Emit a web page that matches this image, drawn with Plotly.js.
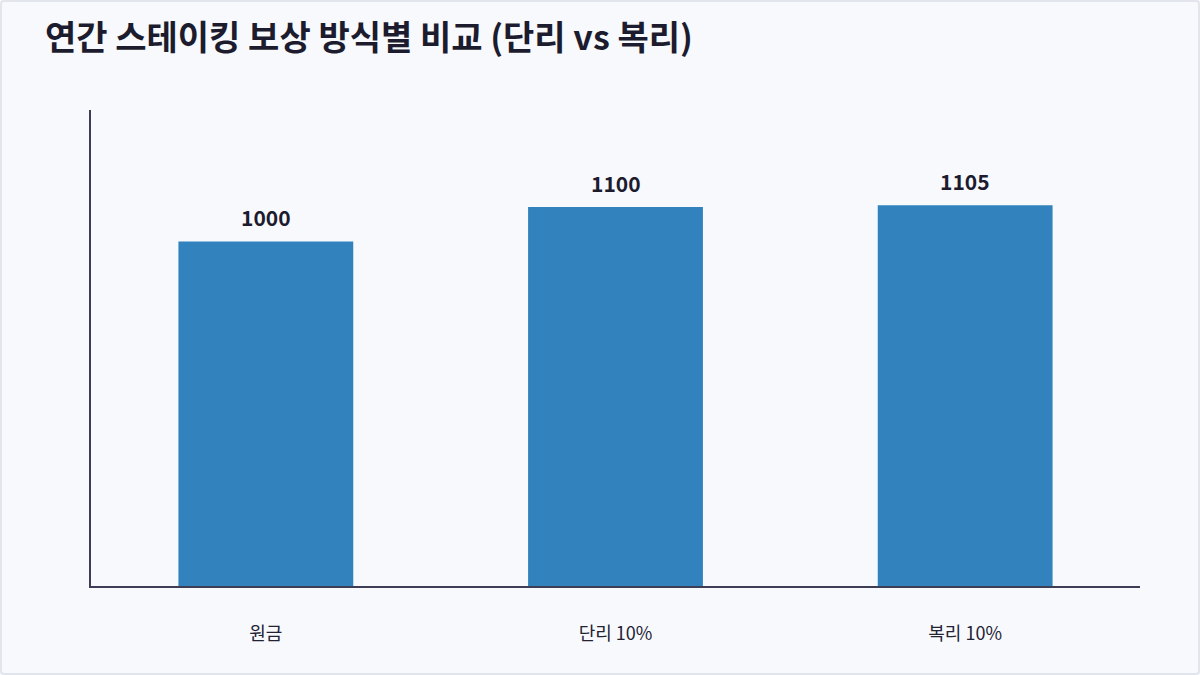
<!DOCTYPE html>
<html>
<head>
<meta charset="utf-8">
<script src="https://cdn.plot.ly/plotly-3.0.1.min.js"></script>
<style>
  html, body { margin: 0; padding: 0; background: #f7f9fd; }
  #wrap { position: relative; width: 1200px; height: 675px; }
  #chart { width: 1200px; height: 675px; }
  #frame {
    position: absolute; left: 0; top: 0; width: 1200px; height: 675px;
    box-sizing: border-box; border: 2px solid #e2e5ec; border-radius: 4px;
    pointer-events: none;
  }
</style>
</head>
<body>
<div id="wrap">
  <div id="chart"></div>
  <div id="frame"></div>
</div>
<script>
var categories = ['원금', '단리 10%', '복리 10%'];
var amounts = [1000, 1100, 1105];
var chartTitle = '연간 스테이킹 보상 방식별 비교 (단리 vs 복리)';

var font = '"Noto Sans CJK KR", "Noto Sans", sans-serif';

var trace = {
    x: categories,
    y: amounts,
    type: 'bar',
    width: 0.5,
    marker: {color: '#3182bd'},
    hoverinfo: 'x+y'
};

// value labels above each bar
var labels = categories.map(function (c, i) {
    return {
        x: c, y: amounts[i], xref: 'x', yref: 'y',
        text: '<b>' + amounts[i] + '</b>',
        showarrow: false,
        yanchor: 'bottom',
        yshift: 7,
        font: {family: font, size: 21, color: '#1c1c2e'}
    };
});

var layout = {
    width: 1200,
    height: 675,
    paper_bgcolor: '#f7f9fd',
    plot_bgcolor: '#f7f9fd',
    margin: {l: 91, r: 60, t: 110, b: 89},
    font: {family: font, color: '#222233'},
    title: {
        text: '<b>' + chartTitle + '</b>',
        font: {family: font, size: 34, color: '#1c1c2e'},
        x: 0, xref: 'container', xanchor: 'left',
        y: 1, yref: 'container', yanchor: 'top',
        pad: {t: 26, l: 45}
    },
    xaxis: {
        showline: true,
        linecolor: '#3d3d55',
        linewidth: 2,
        ticks: '',
        ticklabelstandoff: 30,
        tickfont: {family: font, size: 18, color: '#222233'},
        showgrid: false,
        zeroline: false
    },
    yaxis: {
        range: [0, 1105 * 1.25],
        showline: true,
        linecolor: '#3d3d55',
        linewidth: 2,
        showticklabels: false,
        ticks: '',
        showgrid: false,
        zeroline: false
    },
    annotations: labels,
    showlegend: false
};

Plotly.newPlot('chart', [trace], layout, {displayModeBar: false, staticPlot: true});
</script>
</body>
</html>
